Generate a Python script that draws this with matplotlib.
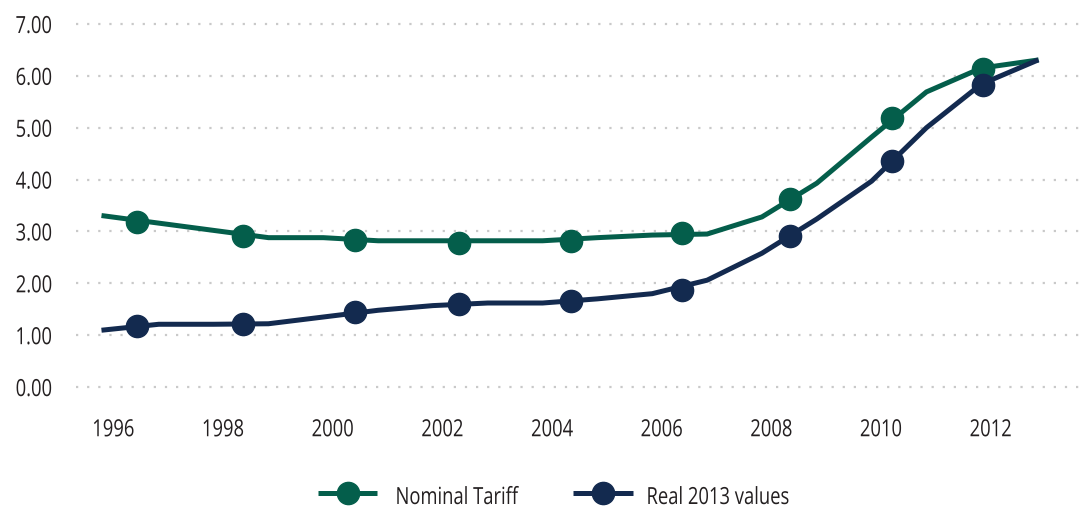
import matplotlib
matplotlib.use("Agg")
import matplotlib.pyplot as plt
from matplotlib.patheffects import AbstractPathEffect
from matplotlib.transforms import Affine2D

plt.rcParams['font.family'] = ['Open Sans', 'DejaVu Sans']
plt.rcParams['font.weight'] = 500

# Annual series
years = list(range(1996, 2014))
nominal = [3.30, 3.16, 3.02, 2.88, 2.88, 2.82, 2.82, 2.82, 2.82, 2.88, 2.93, 2.95,
           3.28, 3.93, 4.82, 5.69, 6.15, 6.30]
real_2013 = [1.10, 1.21, 1.21, 1.22, 1.35, 1.48, 1.57, 1.62, 1.62, 1.70, 1.80, 2.06,
             2.58, 3.24, 3.97, 5.00, 5.84, 6.29]

# Highlighted points along each series
marker_years = [1996.60, 1998.54, 2000.58, 2002.48, 2004.52, 2006.54, 2008.51, 2010.37, 2012.03]
nominal_markers = [3.19, 2.92, 2.83, 2.77, 2.82, 2.97, 3.63, 5.19, 6.13]
real_markers = [1.18, 1.22, 1.44, 1.60, 1.65, 1.87, 2.91, 4.35, 5.82]

tick_years = [1996, 1998, 2000, 2002, 2004, 2006, 2008, 2010, 2012]
y_ticks = [0, 1, 2, 3, 4, 5, 6, 7]
series_names = ['Nominal Tariff', 'Real 2013 values']

GREEN = '#045e4b'
NAVY = '#132a4f'
TEXT = '#231f20'
GRID = '#c9c9c9'
LABEL_SHIFT = 0.17
FONT_SIZE = 17
NARROW = 0.78


class Squash(AbstractPathEffect):
    """Horizontally condense a text path about its left, centre or right edge."""

    def __init__(self, sx, anchor='center'):
        super().__init__()
        self.sx = sx
        self.anchor = anchor

    def draw_path(self, renderer, gc, tpath, affine, rgbFace=None):
        ext = tpath.get_extents(affine)
        if self.anchor == 'left':
            a = ext.x0
        elif self.anchor == 'right':
            a = ext.x1
        else:
            a = 0.5 * (ext.x0 + ext.x1)
        squash = Affine2D().translate(-a, 0).scale(self.sx, 1).translate(a, 0)
        renderer.draw_path(gc, tpath, affine + squash, rgbFace)


fig = plt.figure(figsize=(10.87, 5.10), dpi=100)
ax = fig.add_axes([76 / 1087, 1 - 398.4 / 510, (1080 - 76) / 1087, (398.4 - 14.6) / 510])

ax.plot(years, nominal, color=GREEN, lw=3.6, solid_joinstyle='miter', zorder=3)
ax.plot(years, real_2013, color=NAVY, lw=3.6, solid_joinstyle='miter', zorder=3)
ax.plot(marker_years, nominal_markers, ls='none', marker='o', ms=16, color=GREEN, zorder=4)
ax.plot(marker_years, real_markers, ls='none', marker='o', ms=16, color=NAVY, zorder=4)

ax.set_xlim(1995.49, 2013.80)
ax.set_ylim(-0.2, 7.2)

ax.set_yticks(y_ticks)
ax.set_yticklabels([f"{v:.2f}" for v in y_ticks])
ax.set_xticks([y + LABEL_SHIFT for y in tick_years])
ax.set_xticklabels([str(y) for y in tick_years])

ax.tick_params(axis='both', length=0, labelsize=FONT_SIZE, colors=TEXT)
ax.tick_params(axis='y', pad=17)
ax.tick_params(axis='x', pad=15)
for lab in ax.get_xticklabels():
    lab.set_path_effects([Squash(NARROW, 'center')])
for lab in ax.get_yticklabels():
    lab.set_path_effects([Squash(NARROW, 'right')])

for v in y_ticks:
    ax.axhline(v, color=GRID, lw=1.6, ls=(0, (1, 4)), zorder=1)

for s in ax.spines.values():
    s.set_visible(False)

# Legend row in pixel coordinates
lg = fig.add_axes([0, 0, 1, 1], facecolor='none')
lg.set_xlim(0, 1087)
lg.set_ylim(510, 0)
lg.axis('off')
legend_items = [(318, 377, 395, GREEN), (573, 633, 646, NAVY)]
for (x0, x1, tx, col), name in zip(legend_items, series_names):
    lg.plot([x0, x1], [494, 494], color=col, lw=3.6, solid_capstyle='butt')
    lg.plot([(x0 + x1) / 2], [494], marker='o', ms=16, color=col)
    t = lg.text(tx, 505, name, fontsize=FONT_SIZE, color=TEXT, ha='left', va='baseline')
    t.set_path_effects([Squash(NARROW, 'left')])

fig.savefig('out.png', dpi=100)
